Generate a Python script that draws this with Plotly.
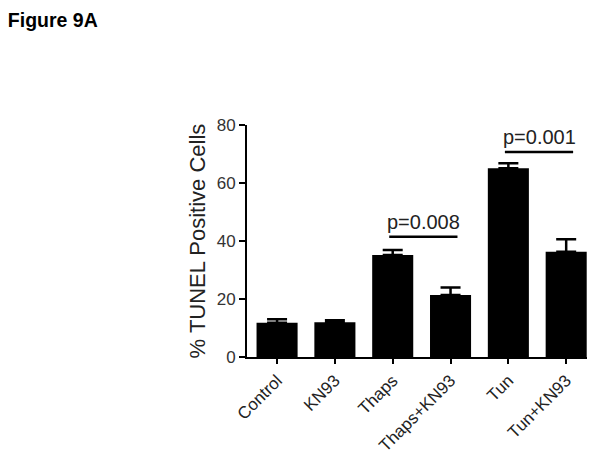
import plotly.graph_objects as go

categories = ["Control", "KN93", "Thaps", "Thaps+KN93", "Tun", "Tun+KN93"]
values = [11.8, 12.0, 35.2, 21.4, 65.1, 36.3]
errors = [1.2, 0.7, 1.7, 2.6, 1.7, 4.3]
y_ticks = [0, 20, 40, 60, 80]

sig_pairs = [(2, 3), (4, 5)]
sig_heights = [41.5, 70.7]
sig_labels = ["p=0.008", "p=0.001"]

FONT = "Arial, Liberation Sans, Helvetica, sans-serif"

fig = go.Figure()
fig.add_trace(go.Bar(
    x=categories,
    y=values,
    width=0.71,
    marker=dict(color="black", line=dict(width=0)),
    error_y=dict(type="data", symmetric=False, array=errors,
                 arrayminus=[0] * len(errors),
                 color="black", thickness=2.5, width=10),
    showlegend=False,
))

for (i, j), h, lab in zip(sig_pairs, sig_heights, sig_labels):
    fig.add_shape(type="line", xref="x", yref="y",
                  x0=i - 0.06, x1=j + 0.12, y0=h, y1=h,
                  line=dict(color="black", width=2.5))
    fig.add_annotation(xref="x", yref="y", x=(i + j) / 2 + 0.03, y=h + 5.2,
                       text=lab, showarrow=False,
                       font=dict(family=FONT, size=20, color="#222"),
                       xanchor="center", yanchor="middle")

fig.update_layout(
    width=604, height=457,
    paper_bgcolor="white", plot_bgcolor="white",
    margin=dict(l=247, r=17, t=125, b=100, pad=0),
    bargap=0.29,
    title=dict(text="<b>Figure 9A</b>", x=0.013, xanchor="left",
               y=1 - 20 / 457, yanchor="middle",
               font=dict(family=FONT, size=19.5, color="black")),
    font=dict(family=FONT, color="#222"),
)

fig.update_xaxes(
    range=[-0.52, 5.36], automargin=False,
    showline=True, linecolor="black", linewidth=2,
    ticks="outside", ticklen=5, tickwidth=2, tickcolor="black",
    tickangle=-45, tickfont=dict(family=FONT, size=17, color="#222"),
    showgrid=False, zeroline=False, fixedrange=True,
)
fig.update_yaxes(
    range=[0, 80], tickvals=y_ticks, automargin=False,
    showline=True, linecolor="black", linewidth=2,
    ticks="outside", ticklen=6, tickwidth=2, tickcolor="black",
    tickfont=dict(family=FONT, size=17, color="#333"),
    showgrid=False, zeroline=False,
    title=dict(text="% TUNEL Positive Cells", standoff=5,
               font=dict(family=FONT, size=22, color="#222")),
)

fig.write_html("out.html",
               config={"displayModeBar": False},
               post_script="document.body.style.margin='0px';document.body.style.overflow='hidden';")
